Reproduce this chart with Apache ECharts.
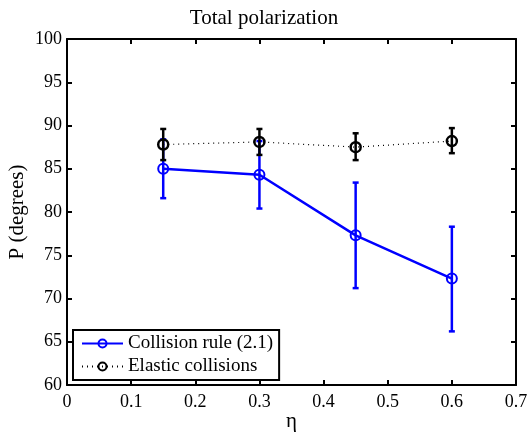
<!DOCTYPE html>
<html>
<head>
<meta charset="utf-8">
<script src="https://cdn.jsdelivr.net/npm/echarts@6/dist/echarts.min.js"></script>
<style>
html, body { margin: 0; padding: 0; background: #fff; }
#chart { width: 528px; height: 432px; }
</style>
</head>
<body>
<div id="chart"></div>
<script>
// eta values
var etaValues = [0.15, 0.3, 0.45, 0.6]
// collision rule (2.1)
var ruleMean = [85.0, 84.3, 77.3, 72.3]
var ruleLow = [81.6, 80.4, 71.2, 66.2]
var ruleHigh = [88.4, 88.2, 83.4, 78.3]
// elastic collisions
var elasticMean = [87.8, 88.1, 87.5, 88.2]
var elasticLow = [86.0, 86.6, 86.0, 86.8]
var elasticHigh = [89.6, 89.6, 89.1, 89.7]

var xTicks = [0, 0.1, 0.2, 0.3, 0.4, 0.5, 0.6, 0.7]
var yTicks = [60, 65, 70, 75, 80, 85, 90, 95, 100]

var serif = 'Liberation Serif'

function pairs(xs, ys) {
    return xs.map(function (x, i) { return [x, ys[i]] })
}
function triples(xs, lo, hi) {
    return xs.map(function (x, i) { return [x, lo[i], hi[i]] })
}

function errorBars(color) {
    return function (params, api) {
        var top = api.coord([api.value(0), api.value(2)])
        var bot = api.coord([api.value(0), api.value(1)])
        var hw = 3
        var style = { stroke: color, lineWidth: 2.5, fill: null }
        return {
            type: 'group',
            children: [
                { type: 'line', shape: { x1: top[0], y1: top[1], x2: bot[0], y2: bot[1] }, style: style },
                { type: 'line', shape: { x1: top[0] - hw, y1: top[1], x2: top[0] + hw, y2: top[1] }, style: style },
                { type: 'line', shape: { x1: bot[0] - hw, y1: bot[1], x2: bot[0] + hw, y2: bot[1] }, style: style }
            ]
        }
    }
}

var myChart = echarts.init(document.getElementById('chart'))
var axisCommon = {
    axisLine: { show: true, onZero: false, lineStyle: { color: '#000', width: 2 } },
    axisTick: { show: true, inside: true, length: 5, lineStyle: { color: '#000', width: 2 } },
    splitLine: { show: false }
}

var options = {
    animation: false,
    backgroundColor: '#fff',
    title: {
        text: 'Total polarization',
        left: 'center',
        top: 3,
        textStyle: { fontFamily: serif, fontSize: 21, fontWeight: 'normal', color: '#000' }
    },
    grid: { left: 67, right: 12, top: 39, bottom: 47, containLabel: false, outerBoundsMode: 'none' },
    legend: {
        orient: 'vertical',
        left: 73,
        top: 330,
        itemWidth: 41,
        itemHeight: 10,
        itemGap: 4,
        padding: [4, 6, 4, 8],
        borderColor: '#000',
        borderWidth: 2,
        backgroundColor: '#fff',
        textStyle: { fontFamily: serif, fontSize: 19, color: '#000' },
        data: ['Collision rule (2.1)', 'Elastic collisions']
    },
    xAxis: [
        Object.assign({
            type: 'value', min: 0, max: 0.7, interval: 0.1, position: 'bottom',
            name: 'η', nameLocation: 'middle', nameGap: 26, nameMoveOverlap: false,
            nameTextStyle: { fontFamily: serif, fontSize: 21, color: '#000' },
            axisLabel: {
                fontFamily: serif, fontSize: 18, color: '#000', margin: 8,
                formatter: function (v) { return xTicks.indexOf(Math.round(v * 10) / 10) >= 0 ? String(Math.round(v * 10) / 10) : '' }
            }
        }, axisCommon),
        Object.assign({
            type: 'value', min: 0, max: 0.7, interval: 0.1, position: 'top',
            axisLabel: { show: false }
        }, axisCommon)
    ],
    yAxis: [
        Object.assign({
            type: 'value', min: 60, max: 100, interval: 5, position: 'left',
            name: 'P (degrees)', nameLocation: 'middle', nameGap: 39, nameMoveOverlap: false,
            nameTextStyle: { fontFamily: serif, fontSize: 21, color: '#000' },
            axisLabel: {
                fontFamily: serif, fontSize: 18, color: '#000', margin: 5,
                formatter: function (v) { return yTicks.indexOf(v) >= 0 ? String(v) : '' }
            }
        }, axisCommon),
        Object.assign({
            type: 'value', min: 60, max: 100, interval: 5, position: 'right',
            axisLabel: { show: false }
        }, axisCommon)
    ],
    series: [
        {
            name: 'Collision rule (2.1)',
            type: 'line',
            data: pairs(etaValues, ruleMean),
            symbol: 'circle',
            symbolSize: 10,
            lineStyle: { color: '#0000ff', width: 2.5 },
            itemStyle: { color: 'rgba(0,0,0,0)', borderColor: '#0000ff', borderWidth: 2 },
            z: 3
        },
        {
            name: 'ruleErr',
            type: 'custom',
            data: triples(etaValues, ruleLow, ruleHigh),
            renderItem: errorBars('#0000ff'),
            z: 2
        },
        {
            name: 'Elastic collisions',
            type: 'line',
            data: pairs(etaValues, elasticMean),
            symbol: 'circle',
            symbolSize: 10,
            lineStyle: { color: '#000', width: 1.2, type: [1, 4] },
            itemStyle: { color: 'rgba(0,0,0,0)', borderColor: '#000', borderWidth: 2.5 },
            z: 5
        },
        {
            name: 'elasticErr',
            type: 'custom',
            data: triples(etaValues, elasticLow, elasticHigh),
            renderItem: errorBars('#000'),
            z: 4
        }
    ]
}
myChart.setOption(options)
</script>
</body>
</html>
